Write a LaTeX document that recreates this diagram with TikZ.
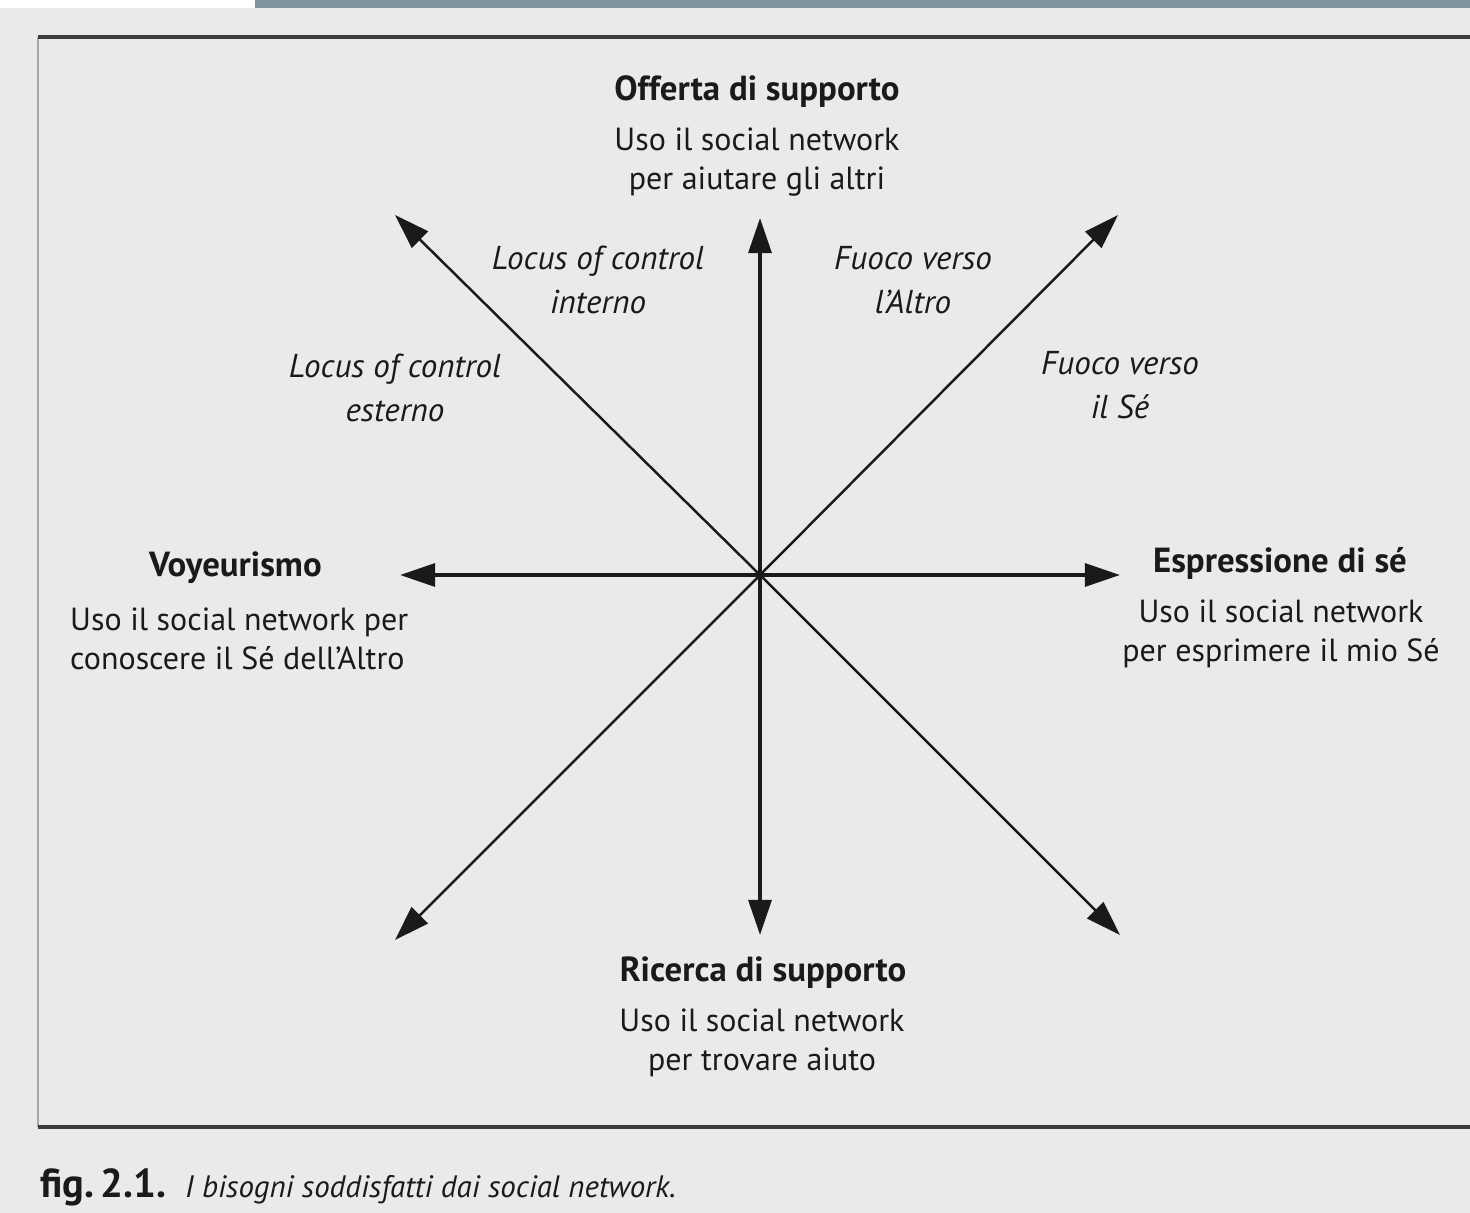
\documentclass[tikz,border=0pt]{standalone}
\usepackage{fontspec}
\setmainfont{PT Sans}
\usetikzlibrary{arrows.meta,calc}
\definecolor{paper}{HTML}{EAEAEA}
\definecolor{ink}{HTML}{1A1A1A}
\definecolor{scanbar}{HTML}{7E929F}

\begin{document}
\begin{tikzpicture}[x=0.01cm,y=-0.01cm]
	\tikzstyle{every node}=[text=ink, inner sep=1pt, font=\fontsize{9.1pt}{11.2pt}\selectfont]
	\tikzstyle{head}=[font=\fontsize{9.9pt}{11.2pt}\selectfont\bfseries]
	\tikzstyle{axis}=[draw=ink, line width=1.1pt, -{Triangle[length=10pt,width=6.5pt]}]
	\tikzstyle{diag}=[draw=ink, line width=0.7pt, -{Triangle[length=10pt,width=6.5pt]}]
	\tikzstyle{note}=[align=center, font=\fontsize{9.4pt}{12.4pt}\selectfont\itshape]
	% page and frame
	\fill[paper] (0,0) rectangle (1470,1213);
	\fill[white] (0,0) rectangle (255,8);
	\fill[scanbar] (255,0) rectangle (1470,8);
	\useasboundingbox (0,0) rectangle (1470,1213);
	\draw[gray!70, line width=0.6pt] (38,37) -- (38,1127);
	\draw[ink!85, line width=1.3pt] (38,37) -- (1470,37);
	\draw[ink!85, line width=1.3pt] (38,1127) -- (1470,1127);
	% star of arrows
	\coordinate (c) at (760,575);
	\coordinate (n) at (760,218);
	\coordinate (s) at (760,935);
	\coordinate (w) at (400,575);
	\coordinate (e) at (1120,575);
	\coordinate (nw) at (395,215);
	\coordinate (ne) at (1118,215);
	\coordinate (sw) at (395,940);
	\coordinate (se) at (1120,935);
	\foreach \p in {n,s,w,e} \draw[axis] (c) -- (\p);
	\foreach \p in {nw,ne,sw,se} \draw[diag] (c) -- (\p);
	% labels
	\node[head] (offerta) at (757,92) {Offerta di supporto};
	\node[align=center] (offertatxt) at (757,162) {Uso il social network\\per aiutare gli altri};
	\node[note] (locint) at (598,280) {Locus of control\\interno};
	\node[note] (fuocoaltro) at (913,280) {Fuoco verso\\l’Altro};
	\node[note] (locest) at (395,388) {Locus of control\\esterno};
	\node[note] (fuocose) at (1120,385) {Fuoco verso\\il Sé};
	\node[head, anchor=west] (voyeur) at (145,568) {Voyeurismo};
	\node[align=left, anchor=west] (voyeurtxt) at (66,639) {Uso il social network per\\conoscere il Sé dell’Altro};
	\node[head] (espr) at (1280,563) {Espressione di sé};
	\node[align=center] (esprtxt) at (1281,634) {Uso il social network\\per esprimere il mio Sé};
	\node[head] (ricerca) at (763,973) {Ricerca di supporto};
	\node[align=center] (ricercatxt) at (762,1043) {Uso il social network\\per trovare aiuto};
	% caption
	\node[anchor=base west, font=\fontsize{11.5pt}{12pt}\selectfont\bfseries] (fig) at (36,1197) {fig.\,2.1.};
	\node[anchor=base west, font=\fontsize{8.8pt}{11pt}\selectfont\itshape] (caption) at (181,1197) {I bisogni soddisfatti dai social network.};
\end{tikzpicture}
\end{document}
